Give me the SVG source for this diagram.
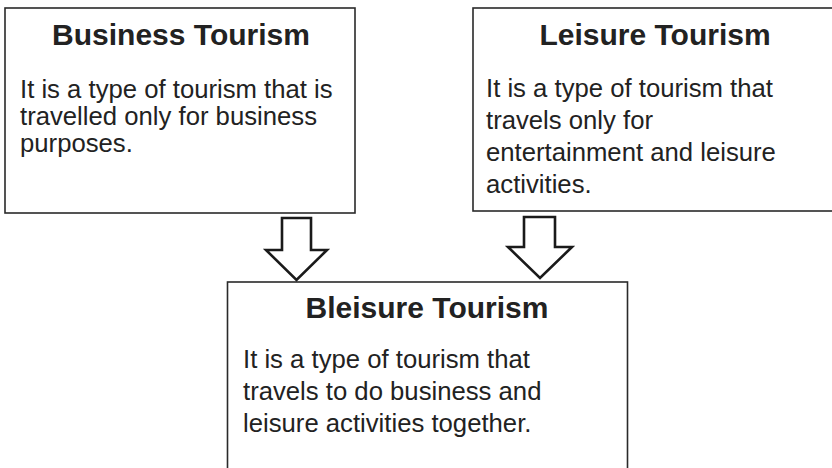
<svg xmlns="http://www.w3.org/2000/svg" width="832" height="468" viewBox="0 0 832 468">
<style>
.box{fill:#fff;stroke:#2a2a2a;stroke-width:1.6}
.title{font-family:"Liberation Sans",Arial,sans-serif;font-weight:bold;font-size:30px;fill:#222;text-anchor:middle}
.body{font-family:"Liberation Sans",Arial,sans-serif;font-size:25.7px;fill:#222}
.arrow{fill:#fff;stroke:#1a1a1a;stroke-width:2.6;stroke-linejoin:miter}
</style>
<rect width="832" height="468" fill="#fff"/>
<g id="business">
<rect class="box" x="5" y="8" width="350" height="205"/>
<text class="title" x="181" y="44.5">Business Tourism</text>
<text class="body" x="20" y="98">It is a type of tourism that is</text>
<text class="body" x="20" y="125">travelled only for business</text>
<text class="body" x="20" y="152">purposes.</text>
</g>
<g id="leisure">
<rect class="box" x="473" y="8" width="400" height="203"/>
<text class="title" x="655" y="44.5">Leisure Tourism</text>
<text class="body" x="486" y="97">It is a type of tourism that</text>
<text class="body" x="486" y="129">travels only for</text>
<text class="body" x="486" y="161">entertainment and leisure</text>
<text class="body" x="486" y="193">activities.</text>
</g>
<g id="bleisure">
<rect class="box" x="227.5" y="282" width="400" height="200"/>
<text class="title" x="427" y="317.5">Bleisure Tourism</text>
<text class="body" x="243" y="368">It is a type of tourism that</text>
<text class="body" x="243" y="400">travels to do business and</text>
<text class="body" x="243" y="431.5">leisure activities together.</text>
</g>
<g id="connectors">
<polygon class="arrow" points="282,218 311,218 311,250 327,250 296.5,280 266,250 282,250"/>
<polygon class="arrow" points="524,217 555,217 555,247 572,247 540,278 508,247 524,247"/>
</g>
</svg>
